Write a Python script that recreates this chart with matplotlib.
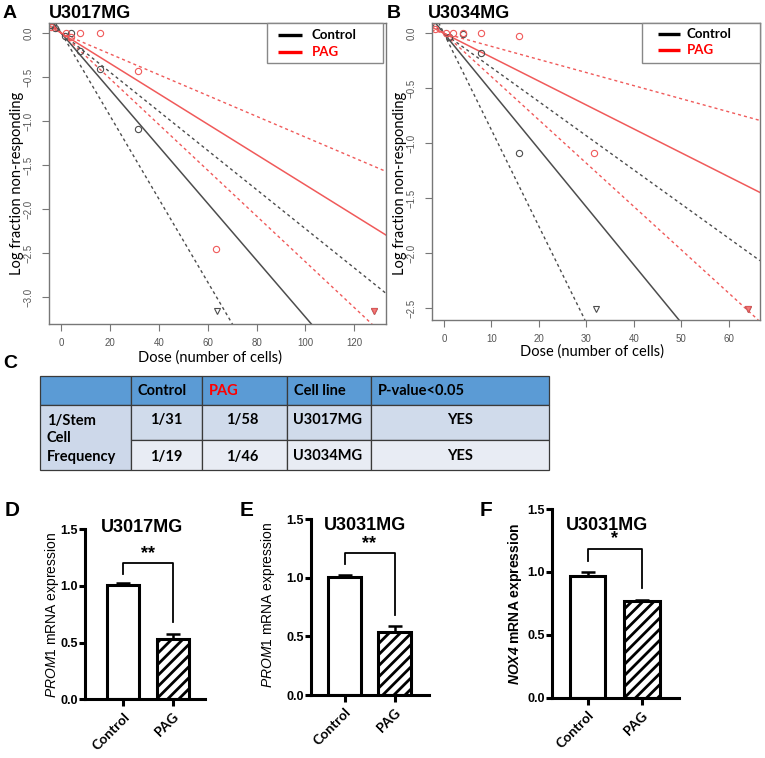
import numpy as np
import matplotlib.pyplot as plt
from matplotlib.patches import Rectangle

plt.rcParams['font.family'] = 'Liberation Sans'
plt.rcParams['mathtext.fontset'] = 'custom'
plt.rcParams['mathtext.rm'] = 'Liberation Sans'
plt.rcParams['mathtext.it'] = 'Liberation Sans:italic'
plt.rcParams['mathtext.bf'] = 'Liberation Sans:bold'
plt.rcParams['mathtext.bfit'] = 'Liberation Sans:italic:bold'
plt.rcParams['hatch.linewidth'] = 2.0

W, H = 765, 758

# ---- A: U3017MG limiting dilution ----
a_ctrl_dose = [-4.1, -2.5, 1.3, 3.7, 7.8, 15.9, 31.5]
a_ctrl_logf = [0.095, 0.064, -0.027, 0.0, -0.20, -0.41, -1.09]
a_pag_dose = [-4.5, 2.0, 3.7, 7.8, 15.6, 31.5, 63.2]
a_pag_logf = [0.075, 0.0, -0.04, 0.0, 0.0, -0.43, -2.45]
a_ctrl_inf = [64, 128]
a_pag_inf = [128]
a_ctrl_freq = [31, 21.2, 45]      # estimate, upper ci, lower ci (1/x)
a_pag_freq = [58, 38.5, 84.7]

# ---- B: U3034MG limiting dilution ----
b_ctrl_dose = [1.1, 4, 7.9, 15.9]
b_ctrl_logf = [-0.03, -0.01, -0.176, -1.085]
b_pag_dose = [-1.8, 0.4, 2, 4, 7.9, 15.9, 31.7]
b_pag_logf = [0.036, 0.0, 0.0, 0.0, 0.0, -0.025, -1.085]
b_ctrl_inf = [32, 64]
b_pag_inf = [64]
b_ctrl_freq = [19, 11.4, 32.2]
b_pag_freq = [46, 25.4, 84]

# ---- C: table ----
table_header = ['', 'Control', 'PAG', 'Cell line', 'P-value<0.05']
table_rowlabel = ['1/Stem', 'Cell', 'Frequency']
table_control = ['1/31', '1/19']
table_pag = ['1/58', '1/46']
table_line = ['U3017MG', 'U3034MG']
table_p = ['YES', 'YES']

# ---- D/E/F: qPCR ----
groups = ['Control', 'PAG']
d_mean = [1.01, 0.53]
d_err = [0.015, 0.05]
e_mean = [1.01, 0.54]
e_err = [0.015, 0.05]
f_mean = [0.97, 0.77]
f_err = [0.027, 0.01]
d_bracket = [1.11, 1.20, 0.68]
e_bracket = [1.12, 1.21, 0.68]
f_bracket = [1.09, 1.18, 0.87]

GREY = '#4d4d4d'
RED = '#f05a5a'

fig = plt.figure(figsize=(W / 100, H / 100), dpi=100)


def px_axes(l, t, r, b):
    return fig.add_axes([l / W, 1 - b / H, (r - l) / W, (b - t) / H])


def limdil(ax, cd, cl, pd, pl, cinf, pinf, cf, pf, dmax, ylim, tri_y, xticks, yticks):
    ax.set_xlim(-0.04 * dmax, 1.04 * dmax)
    ax.set_ylim(*ylim)
    for f, col in [(cf, GREY), (pf, RED)]:
        ax.axline((0, 0), slope=-1 / f[0], color=col, lw=1.1)
        for v in f[1:]:
            ax.axline((0, 0), slope=-1 / v, color=col, lw=1.0, ls=(0, (2.2, 2.2)))
    ax.plot(cd, cl, 'o', ms=4.5, mfc='none', mec=GREY, mew=0.8)
    ax.plot(pd, pl, 'o', ms=4.5, mfc='none', mec=RED, mew=0.8)
    ax.plot(cinf, [tri_y] * len(cinf), 'v', ms=5, mfc='none', mec=GREY, mew=0.8)
    ax.plot(pinf, [tri_y] * len(pinf), 'v', ms=4, mfc=RED, mec=RED, mew=0.8, alpha=0.8)
    ax.set_xticks(xticks)
    ax.set_yticks(yticks)
    ax.set_yticklabels([f'{v:.1f}'.replace('-', '\u2212') for v in yticks],
                       rotation=90, va='center')
    ax.tick_params(color='#777', labelcolor='#555', labelsize=7, length=5, width=0.8)
    ax.tick_params(axis='y', pad=6)
    ax.tick_params(axis='x', pad=5)
    for s in ax.spines.values():
        s.set_color('#777')
        s.set_linewidth(1.0)


axA = px_axes(49, 22.7, 386, 324.3)
limdil(axA, a_ctrl_dose, a_ctrl_logf, a_pag_dose, a_pag_logf, a_ctrl_inf, a_pag_inf,
       a_ctrl_freq, a_pag_freq, 128, (-3.31, 0.12), -3.16,
       np.arange(0, 121, 20), [0.0, -0.5, -1.0, -1.5, -2.0, -2.5, -3.0])

axB = px_axes(431.7, 22.7, 760, 320)
limdil(axB, b_ctrl_dose, b_ctrl_logf, b_pag_dose, b_pag_logf, b_ctrl_inf, b_pag_inf,
       b_ctrl_freq, b_pag_freq, 64, (-2.606, 0.096), -2.51,
       np.arange(0, 61, 10), [0.0, -0.5, -1.0, -1.5, -2.0, -2.5])


def bar_panel(ax, means, errs, xlim, bracket, stars):
    x = np.arange(len(groups))
    hatches = [None, '///']
    for i in x:
        ax.bar(x[i], means[i], width=0.65, color='white', edgecolor='black',
               linewidth=2.2, hatch=hatches[i], zorder=2)
    ax.errorbar(x, means, yerr=[np.zeros(len(x)), errs], fmt='none', ecolor='black',
                elinewidth=1.8, capsize=5, capthick=1.8, zorder=3)
    ax.plot([x[0], x[0], x[1], x[1]], [bracket[0], bracket[1], bracket[1], bracket[2]],
            color='black', lw=1.3)
    ax.text((x[0] + x[1]) / 2, bracket[1] + 0.085, stars, ha='center', va='center',
            fontsize=13, fontweight='bold')
    ax.set_xlim(*xlim)
    ax.set_ylim(0, 1.5)
    ax.set_yticks([0, 0.5, 1.0, 1.5])
    ax.set_yticklabels(['0.0', '0.5', '1.0', '1.5'], fontweight='bold', fontsize=9)
    ax.set_xticks(x)
    ax.set_xticklabels(groups, rotation=45, ha='right', rotation_mode='anchor',
                       fontfamily='Lato', fontweight='bold', fontsize=10)
    ax.tick_params(axis='y', length=4, width=2.2, pad=1)
    ax.tick_params(axis='x', length=5, width=2.2, pad=3)
    for s in ['top', 'right']:
        ax.spines[s].set_visible(False)
    for s in ['left', 'bottom']:
        ax.spines[s].set_linewidth(2.2)
    ax.patch.set_alpha(0)


axD = px_axes(85, 529.3, 205, 699.3)
bar_panel(axD, d_mean, d_err, (-0.78, 1.66), d_bracket, '**')
axE = px_axes(311, 519.3, 429, 695)
bar_panel(axE, e_mean, e_err, (-0.67, 1.69), e_bracket, '**')
axF = px_axes(551.7, 509, 679.3, 697.7)
bar_panel(axF, f_mean, f_err, (-0.656, 1.68), f_bracket, '*')

# ---- overlay in pixel coordinates: labels, legends, table ----
ov = fig.add_axes([0, 0, 1, 1])
ov.set_xlim(0, W)
ov.set_ylim(H, 0)
ov.axis('off')

for letter, lx, ly, sz in [('A', 10, 13, 14), ('B', 394, 13, 14), ('C', 10, 364, 14),
                           ('D', 12, 510, 15), ('E', 247, 511, 15), ('F', 486, 511, 15)]:
    ov.text(lx, ly, letter, ha='center', va='center', fontsize=sz, fontweight='bold')
ov.text(49, 13, 'U3017MG', ha='left', va='center', fontsize=13, fontweight='bold')
ov.text(428, 13, 'U3034MG', ha='left', va='center', fontsize=13, fontweight='bold')

for cx in [17, 400]:
    ov.text(cx, 183.5, 'Log fraction non-responding', rotation=90, ha='center', va='center',
            fontfamily='Lato', fontsize=10.5)
ov.text(210, 358, 'Dose (number of cells)', ha='center', va='center', fontfamily='Lato', fontsize=10.5)
ov.text(592, 352, 'Dose (number of cells)', ha='center', va='center', fontfamily='Lato', fontsize=10.5)

# legends
for (x0, y0, x1, y1, lx0, lx1, tx, ya, yb) in [(266.7, 23.3, 383.3, 63.3, 278, 302, 311.7, 35, 51.7),
                                                (641.7, 22.7, 760, 62.7, 658.3, 680, 686.7, 34, 50)]:
    ov.add_patch(Rectangle((x0, y0), x1 - x0, y1 - y0, facecolor='white', edgecolor='#888', lw=1))
    ov.plot([lx0, lx1], [ya, ya], color='black', lw=2.4, solid_capstyle='butt')
    ov.plot([lx0, lx1], [yb, yb], color='red', lw=2.4, solid_capstyle='butt')
    ov.text(tx, ya, 'Control', ha='left', va='center', fontfamily='Lato', fontweight='bold', fontsize=9.5)
    ov.text(tx, yb, 'PAG', ha='left', va='center', fontfamily='Lato', fontweight='bold', fontsize=9.5, color='red')

# table
cols = [40, 130.7, 201.8, 286.8, 370.7, 549]
rows = [376, 405.4, 440, 470]
hdr_col = '#5b9bd5'
row_cols = ['#d0dbeb', '#e8ecf4']
edge = '#3a3a3a'
for j in range(5):
    ov.add_patch(Rectangle((cols[j], rows[0]), cols[j + 1] - cols[j], rows[1] - rows[0],
                           facecolor=hdr_col, edgecolor=edge, lw=0.9))
ov.add_patch(Rectangle((cols[0], rows[1]), cols[1] - cols[0], rows[3] - rows[1],
                       facecolor='#cdd8ea', edgecolor=edge, lw=0.9))
for i in range(2):
    for j in range(1, 5):
        ov.add_patch(Rectangle((cols[j], rows[i + 1]), cols[j + 1] - cols[j], rows[i + 2] - rows[i + 1],
                               facecolor=row_cols[i], edgecolor=edge, lw=0.9))

tkw = dict(fontfamily='Lato', fontweight='bold', fontsize=10.5, va='center')
hy = (rows[0] + rows[1]) / 2
for j, txt in enumerate(table_header):
    ov.text(cols[j] + 7, hy, txt, ha='left', color='red' if txt == 'PAG' else 'black', **tkw)
for k, txt in enumerate(table_rowlabel):
    ov.text(47, 420.5 + 18 * k, txt, ha='left', **tkw)
for i in range(2):
    ry = rows[i + 1] + 15 + 1.5 * i
    ov.text((cols[1] + cols[2]) / 2, ry, table_control[i], ha='center', **tkw)
    ov.text((cols[2] + cols[3]) / 2 - 2, ry, table_pag[i], ha='center', **tkw)
    ov.text(cols[3] + 6, ry, table_line[i], ha='left', **tkw)
    ov.text((cols[4] + cols[5]) / 2, ry, table_p[i], ha='center', **tkw)

# bar panel titles and y labels
ov.text(142.5, 527, 'U3017MG', ha='center', va='center', fontsize=13, fontweight='bold')
ov.text(365, 526, 'U3031MG', ha='center', va='center', fontsize=13, fontweight='bold')
ov.text(607, 526, 'U3031MG', ha='center', va='center', fontsize=13, fontweight='bold')
ov.text(51.7, 615, r'$\mathit{PROM1}$ mRNA expression', rotation=90, ha='center', va='center', fontsize=10)
ov.text(268.3, 605, r'$\mathit{PROM1}$ mRNA expression', rotation=90, ha='center', va='center', fontsize=10)
ov.text(515, 604, r'$\mathbfit{NOX4}$ mRNA expression', rotation=90, ha='center', va='center',
        fontsize=10, fontweight='bold')

fig.savefig('out.png', dpi=100)
